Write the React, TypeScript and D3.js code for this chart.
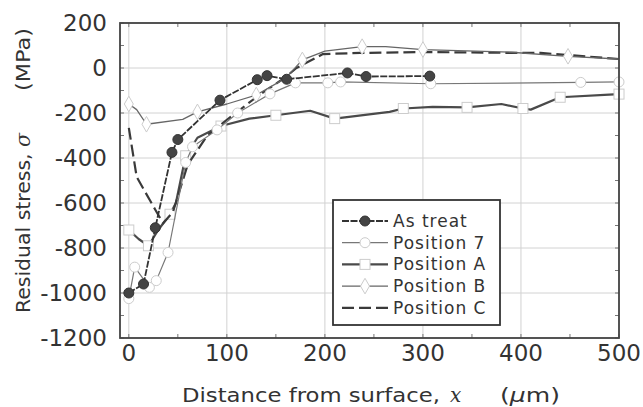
import React, { useEffect, useRef } from 'react';
import * as d3 from 'd3';

type Pt = [number, number];

// distance (um), residual stress (MPa)
const asTreat: Pt[] = [[0, -1000], [15, -960], [27, -710], [44, -375], [50, -318], [93, -143], [131, -52], [141, -34], [161, -50], [223, -22], [242, -38], [307, -36]];
const position7: Pt[] = [[0, -1025], [6, -885], [21, -975], [28, -945], [40, -820], [58, -420], [65, -350], [90, -275], [111, -200], [144, -115], [170, -66], [203, -66], [216, -62], [308, -70], [461, -64], [500, -62]];
const positionA: Pt[] = [[0, -720], [10, -760], [20, -790], [30, -720], [42, -650], [48, -600], [58, -390], [70, -310], [94, -258], [123, -225], [150, -210], [185, -190], [210, -225], [266, -195], [280, -180], [310, -173], [345, -175], [380, -160], [402, -180], [410, -185], [440, -130], [490, -118], [500, -116]];
const positionB: Pt[] = [[0, -160], [8, -185], [18, -250], [55, -228], [70, -195], [100, -160], [130, -120], [160, -45], [177, 36], [200, 75], [238, 95], [262, 95], [300, 82], [390, 70], [448, 52], [500, 40]];
const positionC: Pt[] = [[0, -266], [8, -484], [27, -630], [35, -690], [45, -640], [60, -430], [80, -300], [100, -230], [130, -130], [160, -40], [171, 0], [198, 62], [236, 67], [300, 71], [400, 67], [420, 67], [500, 40]];

const xTicks = [0, 100, 200, 300, 400, 500];
const yTicks = [200, 0, -200, -400, -600, -800, -1000, -1200];
const legendLabels = ['As treat', 'Position 7', 'Position A', 'Position B', 'Position C'];

const FONT = '"DejaVu Sans", "Noto Sans", sans-serif';

const App = () => {
  const svgRef = useRef<SVGSVGElement>(null);

  useEffect(() => {
    const svg = d3.select(svgRef.current);
    svg.selectAll('*').remove();

    const x = d3.scaleLinear().domain([-9, 500]).range([120, 619]);
    const y = d3.scaleLinear().domain([-1200, 200]).range([338, 23]);

    svg.append('rect').attr('width', 643).attr('height', 407).attr('fill', '#fff');

    // grid
    const grid = svg.append('g').attr('stroke', '#d2d2d2').attr('stroke-width', 1);
    xTicks.forEach(t => grid.append('line').attr('x1', x(t)).attr('x2', x(t)).attr('y1', y(200)).attr('y2', y(-1200)));
    yTicks.forEach(t => grid.append('line').attr('x1', x(-9)).attr('x2', x(500)).attr('y1', y(t)).attr('y2', y(t)));

    // minor inward ticks
    const ticks = svg.append('g').attr('stroke', '#777').attr('stroke-width', 1);
    d3.range(0, 501, 50).forEach(t => {
      ticks.append('line').attr('x1', x(t)).attr('x2', x(t)).attr('y1', y(-1200)).attr('y2', y(-1200) - 4);
      ticks.append('line').attr('x1', x(t)).attr('x2', x(t)).attr('y1', y(200)).attr('y2', y(200) + 4);
    });
    d3.range(-1200, 201, 100).forEach(t => {
      ticks.append('line').attr('x1', x(-9)).attr('x2', x(-9) + 4).attr('y1', y(t)).attr('y2', y(t));
      ticks.append('line').attr('x1', x(500)).attr('x2', x(500) - 4).attr('y1', y(t)).attr('y2', y(t));
    });

    const line = d3.line<Pt>().x(d => x(d[0])).y(d => y(d[1]));

    const series = [
      { data: positionA, stroke: '#4a4a4a', width: 2.2, dash: null, marker: 'square' },
      { data: positionC, stroke: '#3a3a3a', width: 2.2, dash: '12,5', marker: null },
      { data: positionB, stroke: '#666', width: 1.3, dash: null, marker: 'triangle' },
      { data: position7, stroke: '#777', width: 1.2, dash: null, marker: 'circle' },
      { data: asTreat, stroke: '#333', width: 1.8, dash: '7,1.5', marker: 'dot' },
    ];

    const drawMarker = (g: any, kind: string | null, cx: number, cy: number) => {
      if (kind === 'dot') {
        g.append('circle').attr('cx', cx).attr('cy', cy).attr('r', 5).attr('fill', '#444').attr('stroke', '#333');
      } else if (kind === 'circle') {
        g.append('circle').attr('cx', cx).attr('cy', cy).attr('r', 5).attr('fill', '#fff').attr('stroke', '#ccc').attr('stroke-width', 1);
      } else if (kind === 'square') {
        g.append('rect').attr('x', cx - 5).attr('y', cy - 5).attr('width', 10).attr('height', 10).attr('fill', '#fff').attr('stroke', '#ccc');
      } else if (kind === 'triangle') {
        g.append('path').attr('d', d3.symbol(d3.symbolDiamond, 70)()).attr('transform', `translate(${cx},${cy})`).attr('fill', '#fff').attr('stroke', '#ccc');
      }
    };

    series.forEach(s => {
      svg.append('path').datum(s.data).attr('d', line).attr('fill', 'none')
        .attr('stroke', s.stroke).attr('stroke-width', s.width)
        .attr('stroke-dasharray', s.dash).attr('stroke-linejoin', 'round');
      const g = svg.append('g');
      if (s.marker === 'circle' || s.marker === 'dot') s.data.forEach(d => drawMarker(g, s.marker, x(d[0]), y(d[1])));
      else if (s.marker) s.data.filter((_, i) => i % 2 === 0).forEach(d => drawMarker(g, s.marker, x(d[0]), y(d[1])));
    });

    // frame
    svg.append('rect').attr('x', x(-9)).attr('y', y(200)).attr('width', x(500) - x(-9)).attr('height', y(-1200) - y(200))
      .attr('fill', 'none').attr('stroke', '#444').attr('stroke-width', 1.8);

    // tick labels
    const lab = svg.append('g').attr('font-family', FONT).attr('font-size', 23).attr('fill', '#333');
    xTicks.forEach(t => lab.append('text').attr('x', x(t)).attr('y', 361).attr('text-anchor', 'middle').text(t));
    yTicks.forEach(t => lab.append('text').attr('x', 107).attr('y', y(t) + 8).attr('text-anchor', 'end').text(t));

    // axis titles
    const tf = (sel: any) => sel.attr('font-family', FONT).attr('font-size', 20).attr('fill', '#333');
    tf(svg.append('text').attr('x', 182).attr('y', 402)
      .attr('textLength', 258).attr('lengthAdjust', 'spacingAndGlyphs').text('Distance from surface,'));
    tf(svg.append('text').attr('x', 450).attr('y', 402)).attr('font-family', 'DejaVu Serif, serif')
      .attr('font-style', 'italic').text('x');
    const um = tf(svg.append('text').attr('x', 500).attr('y', 402).attr('textLength', 60).attr('lengthAdjust', 'spacingAndGlyphs'));
    um.append('tspan').text('(');
    um.append('tspan').attr('font-style', 'italic').text('μ');
    um.append('tspan').text('m)');

    const yt = tf(svg.append('text').attr('transform', 'translate(30,313) rotate(-90)')
      .attr('textLength', 180).attr('lengthAdjust', 'spacingAndGlyphs'));
    yt.append('tspan').text('Residual stress, ');
    yt.append('tspan').attr('font-family', 'DejaVu Serif, serif').attr('font-style', 'italic').text('σ');
    tf(svg.append('text').attr('transform', 'translate(30,91) rotate(-90)')
      .attr('textLength', 63).attr('lengthAdjust', 'spacingAndGlyphs').text('(MPa)'));

    // legend
    const lg = svg.append('g');
    lg.append('rect').attr('x', 333).attr('y', 200).attr('width', 167).attr('height', 125)
      .attr('fill', '#fff').attr('stroke', '#333').attr('stroke-width', 1.8);
    const legendStyles = [series[4], series[3], series[0], series[2], series[1]];
    legendLabels.forEach((name, i) => {
      const ly = 221 + i * 21.7;
      const s = legendStyles[i];
      lg.append('line').attr('x1', 342).attr('x2', 388).attr('y1', ly).attr('y2', ly)
        .attr('stroke', s.stroke).attr('stroke-width', s.width).attr('stroke-dasharray', s.dash);
      drawMarker(lg, s.marker, 365, ly);
      lg.append('text').attr('x', 393).attr('y', ly + 6).attr('font-family', FONT).attr('font-size', 17)
        .attr('fill', '#333').attr('letter-spacing', 1).text(name);
    });
  }, []);

  return (
    <svg ref={svgRef} width={643} height={407} style={{ display: 'block', position: 'absolute', left: 0, top: 0 }} />
  );
};

export default App;
